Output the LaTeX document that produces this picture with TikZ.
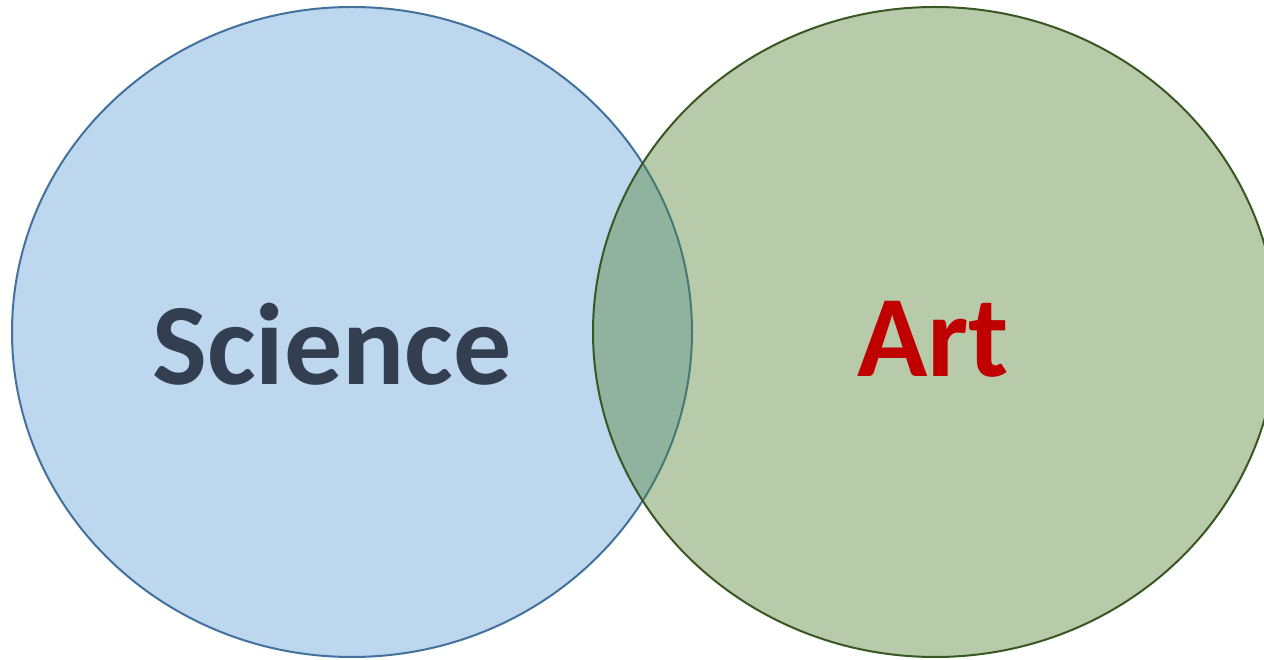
\documentclass[tikz,border=0pt]{standalone}
\usepackage{fontspec}
\setmainfont{Carlito}
\definecolor{scifill}{HTML}{BDD7EE}
\definecolor{sciline}{HTML}{41719C}
\definecolor{artfill}{HTML}{548235}
\definecolor{artline}{HTML}{385723}
\definecolor{scitext}{HTML}{333F50}
\definecolor{arttext}{HTML}{C00000}
\tikzset{
  circlab/.style={font=\fontsize{116}{124}\selectfont\bfseries, inner sep=0pt, anchor=base}
}
\begin{document}
\begin{tikzpicture}[x=1pt,y=1pt]
\useasboundingbox (0,0) rectangle (1264,659);
\clip (0,0) rectangle (1264,659);
\fill[white] (0,0) rectangle (1264,659);
\draw[sciline, fill=scifill, line width=2pt] (352,327) ellipse [x radius=340, y radius=325];
\draw[artline, fill=artfill, fill opacity=0.42, line width=2pt] (935,327) ellipse [x radius=342, y radius=325];
\node[circlab, text=scitext] (sci) at (332,274) {Science};
\node[circlab, text=arttext] (art) at (933,282) {Art};
\end{tikzpicture}
\end{document}
